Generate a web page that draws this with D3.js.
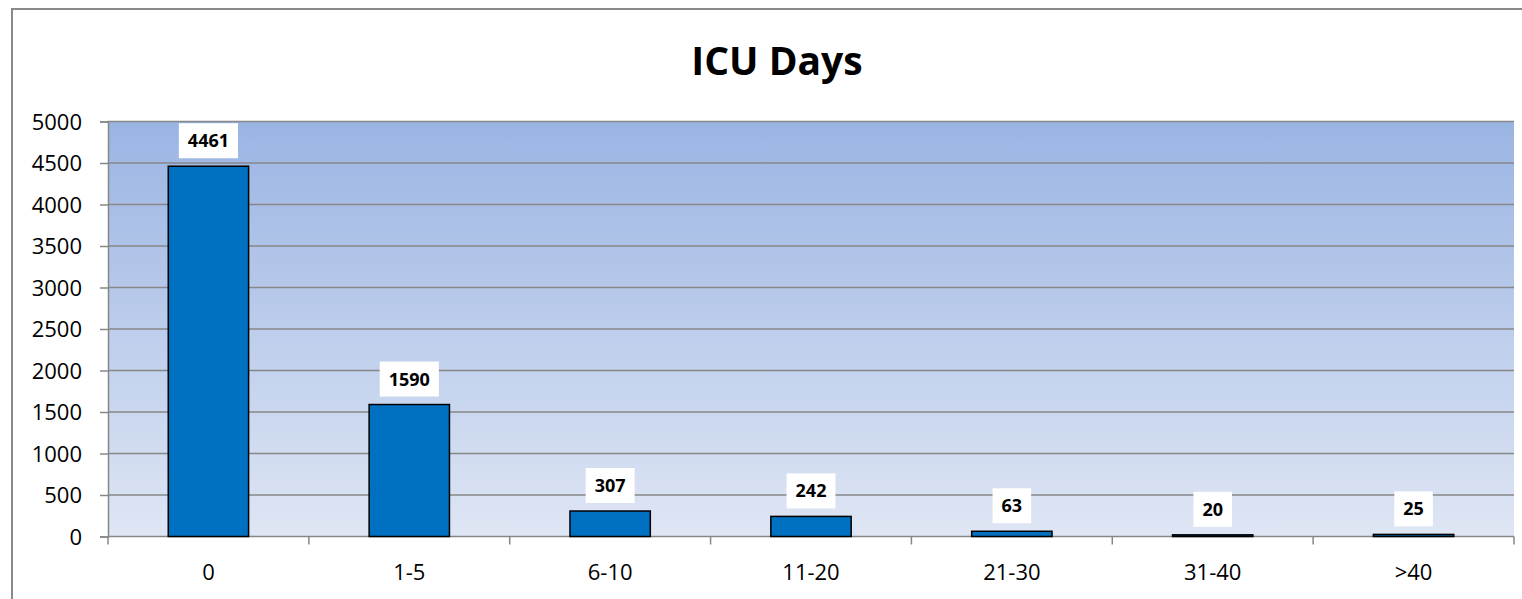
<!DOCTYPE html>
<html>
<head>
<meta charset="utf-8">
<script src="https://cdn.jsdelivr.net/npm/d3@7"></script>
<style>
  body { margin: 0; background: #fff; }
  text { font-family: "Open Sans", "DejaVu Sans", sans-serif; }
</style>
</head>
<body>
<svg id="chart" width="1522" height="599"></svg>
<script>
// data
var categories = ["0", "1-5", "6-10", "11-20", "21-30", "31-40", ">40"]
var counts = [4461, 1590, 307, 242, 63, 20, 25]
var yTicks = [0, 500, 1000, 1500, 2000, 2500, 3000, 3500, 4000, 4500, 5000]

var svg = d3.select('#chart')
var plot = {left: 108, right: 1514, top: 121.5, bottom: 536.5}

// outer chart border (right/bottom edges fall off the page)
svg.append('path')
  .attr('d', 'M12,600 L12,9 L1530,9')
  .attr('fill', 'none')
  .attr('stroke', '#8a8a8a')
  .attr('stroke-width', 2)

svg.append('text')
  .attr('x', 777)
  .attr('y', 75)
  .attr('text-anchor', 'middle')
  .attr('font-size', 39)
  .attr('font-weight', 'bold')
  .text('ICU Days')

var grad = svg.append('defs').append('linearGradient')
  .attr('id', 'bg').attr('x1', 0).attr('y1', 0).attr('x2', 0).attr('y2', 1)
grad.append('stop').attr('offset', '0%').attr('stop-color', '#9ab4e3')
grad.append('stop').attr('offset', '100%').attr('stop-color', '#dfe6f4')

svg.append('rect')
  .attr('x', plot.left).attr('y', plot.top)
  .attr('width', plot.right - plot.left)
  .attr('height', plot.bottom - plot.top)
  .attr('fill', 'url(#bg)')

var x = d3.scaleBand().domain(categories).range([plot.left, plot.right])
var y = d3.scaleLinear().domain([0, 5000]).range([plot.bottom, plot.top])

// gridlines
svg.append('g').selectAll('line')
  .data(yTicks.filter(d => d > 0))
  .enter().append('line')
  .attr('x1', plot.left).attr('x2', plot.right)
  .attr('y1', d => y(d)).attr('y2', d => y(d))
  .attr('stroke', '#878787')
  .attr('stroke-width', 1.5)

// y axis
var yAxis = svg.append('g')
  .attr('transform', 'translate(' + plot.left + ',0)')
  .call(d3.axisLeft(y).tickValues(yTicks).tickFormat(d3.format('d')).tickSize(8).tickPadding(18))
yAxis.select('.domain').attr('stroke', '#878787').attr('stroke-width', 1.5)
yAxis.selectAll('.tick line').attr('stroke', '#878787').attr('stroke-width', 1.5)
yAxis.selectAll('.tick text')
  .attr('font-size', 22).attr('fill', '#000')
  .attr('font-family', '"Open Sans", sans-serif')
  .attr('dy', '0.36em')

// x axis: ticks sit on category boundaries
var xAxis = svg.append('g')
  .attr('transform', 'translate(0,' + plot.bottom + ')')
xAxis.append('line')
  .attr('x1', plot.left).attr('x2', plot.right)
  .attr('stroke', '#878787').attr('stroke-width', 1.5)
xAxis.selectAll('line.tick')
  .data(d3.range(categories.length + 1))
  .enter().append('line')
  .classed('tick', true)
  .attr('x1', i => plot.left + i * x.step())
  .attr('x2', i => plot.left + i * x.step())
  .attr('y1', 0).attr('y2', 8)
  .attr('stroke', '#878787').attr('stroke-width', 1.5)
xAxis.selectAll('text')
  .data(categories)
  .enter().append('text')
  .attr('x', d => x(d) + x.bandwidth() / 2)
  .attr('y', 43)
  .attr('text-anchor', 'middle')
  .attr('font-size', 22)
  .text(d => d)

// bars
var barW = x.bandwidth() * 0.4
var rows = categories.map((c, i) => ({cat: c, value: counts[i]}))

svg.append('g').selectAll('rect')
  .data(rows)
  .enter().append('rect')
  .attr('x', d => x(d.cat) + (x.bandwidth() - barW) / 2)
  .attr('y', d => y(d.value))
  .attr('width', barW)
  .attr('height', d => y(0) - y(d.value))
  .attr('fill', '#0070c0')
  .attr('stroke', '#000')
  .attr('stroke-width', 1.5)

// value labels in white boxes
var labels = svg.append('g').selectAll('g')
  .data(rows)
  .enter().append('g')
  .attr('transform', d => 'translate(' + (x(d.cat) + x.bandwidth() / 2) + ',' + (y(d.value) - 8) + ')')

labels.append('text')
  .attr('text-anchor', 'middle')
  .attr('y', -11)
  .attr('font-size', 18)
  .attr('font-weight', 'bold')
  .text(d => d.value)

labels.each(function(d) {
  var g = d3.select(this)
  var w = g.select('text').node().getBBox().width
  g.insert('rect', 'text')
    .attr('x', -w / 2 - 9)
    .attr('y', -35)
    .attr('width', w + 18)
    .attr('height', 35)
    .attr('fill', '#fff')
})
</script>
</body>
</html>
